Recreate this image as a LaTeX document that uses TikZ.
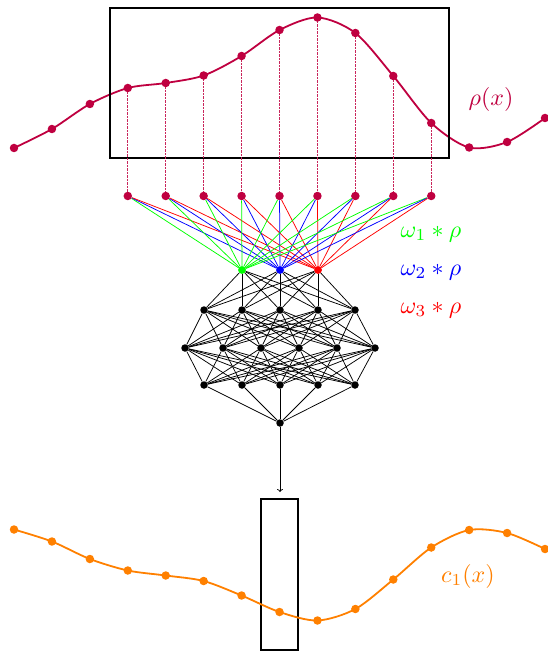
\documentclass[tikz,border=0pt]{standalone}
\usetikzlibrary{arrows.meta}
\begin{document}
\begin{tikzpicture}[x=1pt,y=-1pt,
  pdot/.style={circle,fill=purple,inner sep=0pt,minimum size=8.5pt},
  odot/.style={circle,fill=orange,inner sep=0pt,minimum size=8.5pt},
  ndot/.style={circle,fill=black,inner sep=0pt,minimum size=7.5pt},
  cdot/.style={circle,fill=#1,inner sep=0pt,minimum size=7.5pt},
  curve/.style={line width=1.8pt,line cap=round},
  frame/.style={draw=black,line width=1.8pt},
  link/.style={line width=0.75pt},
  dropline/.style={draw=purple!85,line width=0.8pt,dash pattern=on 2.4pt off 1.1pt},
  lbl/.style={scale=2.4,inner sep=0pt}]
\useasboundingbox (0,0) rectangle (547,652);
% top curve
\foreach \i/\y in {0/148,1/129,2/104,3/88,4/83,5/75.5,6/56,7/30,8/17.5,9/33,10/76,11/123,12/147.5,13/142,14/118}{
  \coordinate (t\i) at ({14+37.93*\i},\y);
}
\draw[purple,curve] plot[smooth] coordinates {(t0) (t1) (t2) (t3) (t4) (t5) (t6) (t7) (t8) (t9) (t10) (t11) (t12) (t13) (t14)};
\node[frame,minimum width=339pt,minimum height=150pt,inner sep=0pt] (topbox) at (279.5,83) {};
% input layer
\foreach \i in {3,...,11}{
  \node[pdot] (in\i) at ({14+37.93*\i},196) {};
}
\draw[dropline] (t3) -- (in3) (t4) -- (in4) (t5) -- (in5) (t6) -- (in6) (t7) -- (in7)
  (t8) -- (in8) (t9) -- (in9) (t10) -- (in10) (t11) -- (in11);
\foreach \i in {0,...,14}{ \node[pdot] (tp\i) at (t\i) {}; }
% first hidden layer
\node[cdot=green] (h1) at (242,270) {};
\node[cdot=blue] (h2) at (280,270) {};
\node[cdot=red] (h3) at (318,270) {};
\foreach \i in {3,...,11}{
  \draw[link,green] (in\i) -- (h1);
  \draw[link,blue] (in\i) -- (h2);
  \draw[link,red] (in\i) -- (h3);
}
% other layers
\foreach \j/\x in {1/204,2/242,3/280,4/318,5/355}{ \node[ndot] (a\j) at (\x,310) {}; }
\foreach \j/\x in {1/185,2/223,3/261,4/299,5/337,6/375}{ \node[ndot] (b\j) at (\x,348) {}; }
\foreach \j/\x in {1/204,2/242,3/280,4/318,5/355}{ \node[ndot] (c\j) at (\x,385) {}; }
\node[ndot] (out) at (280,423) {};
\foreach \i in {1,2,3}{ \foreach \j in {1,...,5}{ \draw[link] (h\i) -- (a\j); } }
\foreach \i in {1,...,5}{ \foreach \j in {1,...,6}{ \draw[link] (a\i) -- (b\j); } }
\foreach \i in {1,...,6}{ \foreach \j in {1,...,5}{ \draw[link] (b\i) -- (c\j); } }
\foreach \i in {1,...,5}{ \draw[link] (c\i) -- (out); }
\node[cdot=green] at (h1) {};
\node[cdot=blue] at (h2) {};
\node[cdot=red] at (h3) {};
% arrow
\coordinate (arrend) at (280,492);
\draw[link,-{To[length=3pt,width=6pt]}] (out) -- (arrend);
% bottom curve
\foreach \i/\y in {0/529.5,1/541.5,2/559,3/570.5,4/575.5,5/581,6/595.5,7/612,8/620.5,9/609,10/579.5,11/547.5,12/530,13/533,14/549}{
  \coordinate (u\i) at ({14+37.93*\i},\y);
}
\node[frame,minimum width=37pt,minimum height=151pt,inner sep=0pt] (botbox) at (279.5,574.5) {};
\draw[orange,curve] plot[smooth] coordinates {(u0) (u1) (u2) (u3) (u4) (u5) (u6) (u7) (u8) (u9) (u10) (u11) (u12) (u13) (u14)};
\foreach \i in {0,...,14}{ \node[odot] (up\i) at (u\i) {}; }
% labels
\node[lbl,text=purple] (rho) at (491,100) {$\rho(x)$};
\node[lbl,text=green] (w1) at (431,234) {$\omega_1*\rho$};
\node[lbl,text=blue] (w2) at (431,272) {$\omega_2*\rho$};
\node[lbl,text=red] (w3) at (431,310) {$\omega_3*\rho$};
\node[lbl,text=orange] (c1) at (468,576) {$c_1(x)$};
\end{tikzpicture}
\end{document}
